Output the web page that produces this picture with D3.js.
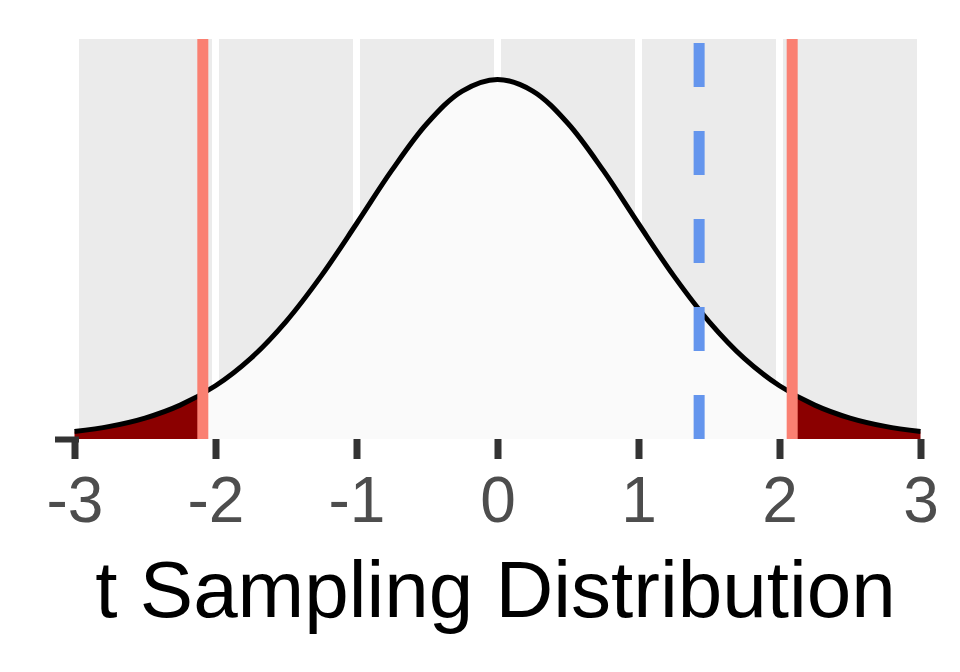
<!DOCTYPE html>
<html>
<head>
<meta charset="utf-8">
<script src="https://cdn.jsdelivr.net/npm/d3@7"></script>
<style>
  body { margin: 0; background: #fff; }
  svg { display: block; font-family: "Liberation Sans", Arial, sans-serif; }
</style>
</head>
<body>
<svg id="chart" width="960" height="672"></svg>
<script>
// t values and density (every 0.25)
const tValues = [-3, -2.75, -2.5, -2.25, -2, -1.75, -1.5, -1.25, -1, -0.75, -0.5, -0.25, 0,
  0.25, 0.5, 0.75, 1, 1.25, 1.5, 1.75, 2, 2.25, 2.5, 2.75, 3];
const density = [0.0082, 0.0138, 0.0229, 0.0371, 0.0583, 0.0883, 0.1286, 0.1786, 0.2357, 0.2941, 0.3455, 0.3810, 0.3937,
  0.3810, 0.3455, 0.2941, 0.2357, 0.1786, 0.1286, 0.0883, 0.0583, 0.0371, 0.0229, 0.0138, 0.0082];
const criticalValues = [-2.09, 2.09];
const observedT = 1.43;
const xTicks = [-3, -2, -1, 0, 1, 2, 3];
const xTickLabels = ["-3", "-2", "-1", "0", "1", "2", "3"];
const xLabel = "t Sampling Distribution";

const curveData = tValues.map((t, i) => ({ t: t, d: density[i] }));

const svg = d3.select("#chart");

const panel = { left: 79, right: 917, top: 39, bottom: 439 };

const x = d3.scaleLinear().domain([-3, 3]).range([74.5, 920.5]);
const y = d3.scaleLinear().domain([0, 0.438]).range([panel.bottom, panel.top]);

const defs = svg.append("defs");
defs.append("clipPath").attr("id", "panel-clip")
  .append("rect")
  .attr("x", panel.left).attr("y", panel.top)
  .attr("width", panel.right - panel.left).attr("height", panel.bottom - panel.top);
defs.append("clipPath").attr("id", "left-tail")
  .append("rect")
  .attr("x", 0).attr("y", 0)
  .attr("width", x(criticalValues[0])).attr("height", panel.bottom);
defs.append("clipPath").attr("id", "right-tail")
  .append("rect")
  .attr("x", x(criticalValues[1])).attr("y", 0)
  .attr("width", 960 - x(criticalValues[1])).attr("height", panel.bottom);

// panel background
svg.append("rect")
  .attr("x", panel.left).attr("y", panel.top)
  .attr("width", panel.right - panel.left)
  .attr("height", panel.bottom - panel.top)
  .attr("fill", "#EBEBEB");

// grid
svg.append("g")
  .attr("clip-path", "url(#panel-clip)")
  .selectAll("line")
  .data(xTicks)
  .enter()
  .append("line")
  .attr("x1", d => x(d)).attr("x2", d => x(d))
  .attr("y1", panel.top).attr("y2", panel.bottom)
  .attr("stroke", "#fff")
  .attr("stroke-width", 7);

const area = d3.area()
  .x(d => x(d.t))
  .y0(y(0))
  .y1(d => y(d.d))
  .curve(d3.curveCatmullRom);

const line = d3.line()
  .x(d => x(d.t))
  .y(d => y(d.d))
  .curve(d3.curveCatmullRom);

svg.append("path")
  .datum(curveData)
  .attr("d", area)
  .attr("fill", "#FAFAFA");

["left-tail", "right-tail"].forEach(id => {
  svg.append("path")
    .datum(curveData)
    .attr("d", area)
    .attr("clip-path", `url(#${id})`)
    .attr("fill", "#8B0000");
});

svg.append("path")
  .datum(curveData)
  .attr("d", line)
  .attr("fill", "none")
  .attr("stroke", "#000")
  .attr("stroke-width", 5);

// critical values
svg.selectAll(".crit")
  .data(criticalValues)
  .enter()
  .append("line")
  .attr("class", "crit")
  .attr("x1", d => x(d)).attr("x2", d => x(d))
  .attr("y1", panel.top).attr("y2", panel.bottom)
  .attr("stroke", "#FA8072")
  .attr("stroke-width", 11);

// observed statistic, dashed from the bottom up
svg.append("line")
  .attr("x1", x(observedT)).attr("x2", x(observedT))
  .attr("y1", panel.bottom).attr("y2", panel.top)
  .attr("stroke", "#6495ED")
  .attr("stroke-width", 11)
  .attr("stroke-dasharray", "44 44");

// x axis
const xAxis = svg.append("g")
  .attr("transform", `translate(0,${panel.bottom})`)
  .call(d3.axisBottom(x).tickValues(xTicks)
    .tickFormat((d, i) => xTickLabels[i])
    .tickSize(20).tickPadding(18));
xAxis.select(".domain").remove();
xAxis.selectAll(".tick line").attr("stroke", "#333333").attr("stroke-width", 7);
xAxis.selectAll(".tick text")
  .attr("fill", "#4D4D4D")
  .attr("font-size", "64px")
  .attr("font-family", "Liberation Sans, Arial, sans-serif");

// y axis: only the tick at zero
const yAxis = svg.append("g")
  .attr("transform", `translate(${panel.left},0)`)
  .call(d3.axisLeft(y).tickValues([0]).tickSize(24).tickFormat(""));
yAxis.select(".domain").remove();
yAxis.selectAll(".tick line").attr("stroke", "#333333").attr("stroke-width", 6);

svg.append("text")
  .attr("x", 495.5)
  .attr("y", 617)
  .attr("text-anchor", "middle")
  .attr("font-size", "80px")
  .attr("fill", "#000")
  .text(xLabel);
</script>
</body>
</html>
